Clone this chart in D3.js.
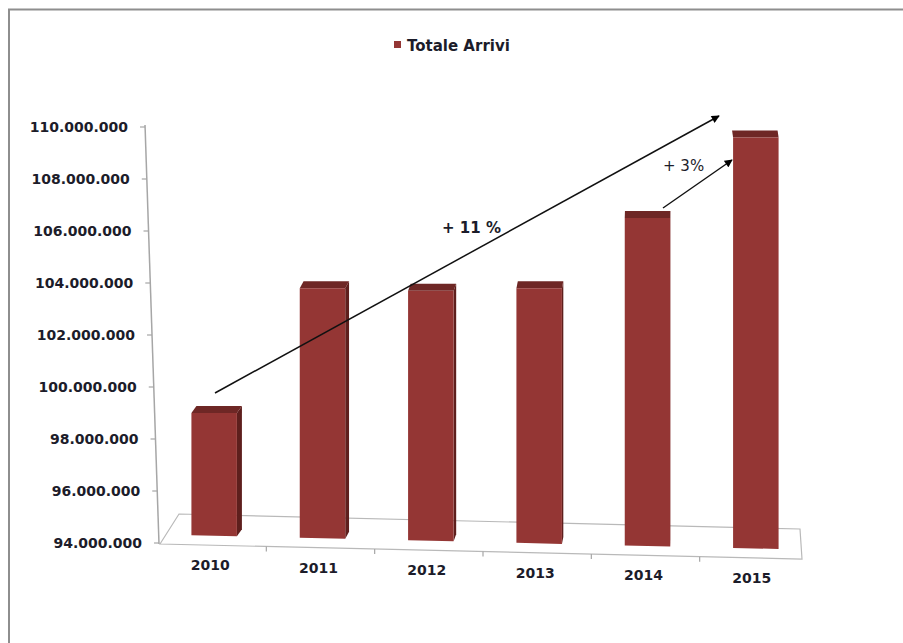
<!DOCTYPE html>
<html>
<head>
<meta charset="utf-8">
<script src="https://cdn.jsdelivr.net/npm/d3@7"></script>
<style>
  html, body { margin: 0; padding: 0; background: #fff; }
  svg { display: block; }
  text { font-family: "DejaVu Sans", sans-serif; fill: #1c1c2a; }
</style>
</head>
<body>
<div id="chart"></div>
<script>
// data
const years = ['2010', '2011', '2012', '2013', '2014', '2015'];
const arrivals = [99000000, 103800000, 103700000, 103800000, 106500000, 109600000];
const yTickValues = [94000000, 96000000, 98000000, 100000000, 102000000, 104000000, 106000000, 108000000, 110000000];
const seriesName = 'Totale Arrivi';
const notes = [
    { label: '+ 11 %', from: 0, to: 5, bold: true },
    { label: '+ 3%', from: 4, to: 5, bold: false }
];

const W = 903, H = 643;
const barColor = '#943634', topColor = '#6e2725', sideColor = '#5e1f1d';

const itFormat = d3.formatLocale({ decimal: ',', thousands: '.', grouping: [3], currency: ['', '€'] }).format(',');

const svg = d3.select('#chart').append('svg')
    .attr('width', W)
    .attr('height', H);

// outer frame (top and left edges only are inside the picture)
svg.append('path')
    .attr('d', 'M9,643 V9.5 H903')
    .attr('fill', 'none')
    .attr('stroke', '#8e8e8e')
    .attr('stroke-width', 2);

const yScale = d3.scaleLinear().domain([94000000, 110000000]).range([543, 127]);
const xScale = d3.scaleBand().domain(years).range([160, 810]).paddingInner(0.58).paddingOuter(0.29);

// slight perspective of the excel 3d plot
const axisX = y => 159 - (543 - y) * 0.0336;
const frontY = x => 544 + (x - 160) * 0.0234;
const barBottom = x => frontY(x) - 9.5;
const depthX = d3.scaleLinear().domain([0, years.length - 1]).range([5, -1]);
const depthY = -7;

// floor
const floor = svg.append('g').attr('fill', 'none').attr('stroke', '#b9b9b9').attr('stroke-width', 1.2);
floor.append('path').attr('d', `M160,${frontY(160)} L179,514 L800,529 L802,${frontY(802)} Z`);

// category ticks on the front edge
xScale.domain().forEach((d, i) => {
    if (i === 0) return;
    const x = xScale(d) - xScale.step() * xScale.paddingInner() / 2 - 2;
    floor.append('line')
        .attr('x1', x).attr('x2', x)
        .attr('y1', frontY(x)).attr('y2', frontY(x) + 5)
        .attr('stroke', '#a6a6a6');
});

// y axis
const yAxis = svg.append('g').attr('class', 'y-axis');
yAxis.append('line')
    .attr('x1', axisX(yScale.range()[1]) ).attr('y1', yScale.range()[1] - 2)
    .attr('x2', axisX(yScale.range()[0]) ).attr('y2', yScale.range()[0] + 1)
    .attr('stroke', '#a6a6a6')
    .attr('stroke-width', 1.5);

yTickValues.forEach(v => {
    const y = yScale(v);
    const x = axisX(y);
    yAxis.append('line')
        .attr('x1', x - 5).attr('x2', x)
        .attr('y1', y).attr('y2', y)
        .attr('stroke', '#a6a6a6')
        .attr('stroke-width', 1.2);
    yAxis.append('text')
        .attr('x', x - 17)
        .attr('y', y)
        .attr('dy', '0.36em')
        .attr('text-anchor', 'end')
        .style('font-size', '14px')
        .style('font-weight', 'bold')
        .text(itFormat(v));
});

// bars
const bars = svg.append('g').attr('class', 'bars');
years.forEach((yr, i) => {
    const x0 = xScale(yr), x1 = x0 + xScale.bandwidth();
    const top = yScale(arrivals[i]);
    const b0 = barBottom(x0), b1 = barBottom(x1);
    const dx = depthX(i);

    if (dx > 0) {
        bars.append('path')
            .attr('d', `M${x1},${top} L${x1 + dx},${top + depthY} L${x1 + dx},${b1 + depthY} L${x1},${b1} Z`)
            .attr('fill', sideColor);
    }
    bars.append('path')
        .attr('d', `M${x0},${top} L${x0 + dx},${top + depthY} L${x1 + dx},${top + depthY} L${x1},${top} Z`)
        .attr('fill', topColor);
    bars.append('path')
        .attr('d', `M${x0},${top} L${x1},${top} L${x1},${b1} L${x0},${b0} Z`)
        .attr('fill', barColor);
});

// category labels
years.forEach(yr => {
    const cx = xScale(yr) + xScale.bandwidth() / 2 - 4;
    svg.append('text')
        .attr('x', cx)
        .attr('y', frontY(cx) + 25)
        .attr('text-anchor', 'middle')
        .style('font-size', '14px')
        .style('font-weight', 'bold')
        .text(yr);
});

// legend
svg.append('rect')
    .attr('x', 394).attr('y', 41)
    .attr('width', 7).attr('height', 7)
    .attr('fill', barColor);
svg.append('text')
    .attr('x', 407).attr('y', 51)
    .style('font-size', '15px')
    .style('font-weight', 'bold')
    .text(seriesName);

// growth arrows
const defs = svg.append('defs');
defs.append('marker')
    .attr('id', 'arrowhead')
    .attr('viewBox', '0 0 10 10')
    .attr('refX', 9).attr('refY', 5)
    .attr('markerWidth', 9).attr('markerHeight', 8)
    .attr('markerUnits', 'userSpaceOnUse')
    .attr('orient', 'auto')
    .append('path')
    .attr('d', 'M0,0 L10,5 L0,10 Z')
    .attr('fill', '#000');

const arrowGeom = [
    { x1: 215, y1: 393, x2: 719, y2: 116, tx: 442, ty: 233 },
    { x1: 663, y1: 208, x2: 732, y2: 160, tx: 663, ty: 171 }
];
notes.forEach((n, i) => {
    const g = arrowGeom[i];
    svg.append('line')
        .attr('x1', g.x1).attr('y1', g.y1)
        .attr('x2', g.x2).attr('y2', g.y2)
        .attr('stroke', '#111')
        .attr('stroke-width', 1.5)
        .attr('marker-end', 'url(#arrowhead)');
    svg.append('text')
        .attr('x', g.tx).attr('y', g.ty)
        .style('font-size', '15px')
        .style('font-weight', n.bold ? 'bold' : 'normal')
        .text(n.label);
});
</script>
</body>
</html>
